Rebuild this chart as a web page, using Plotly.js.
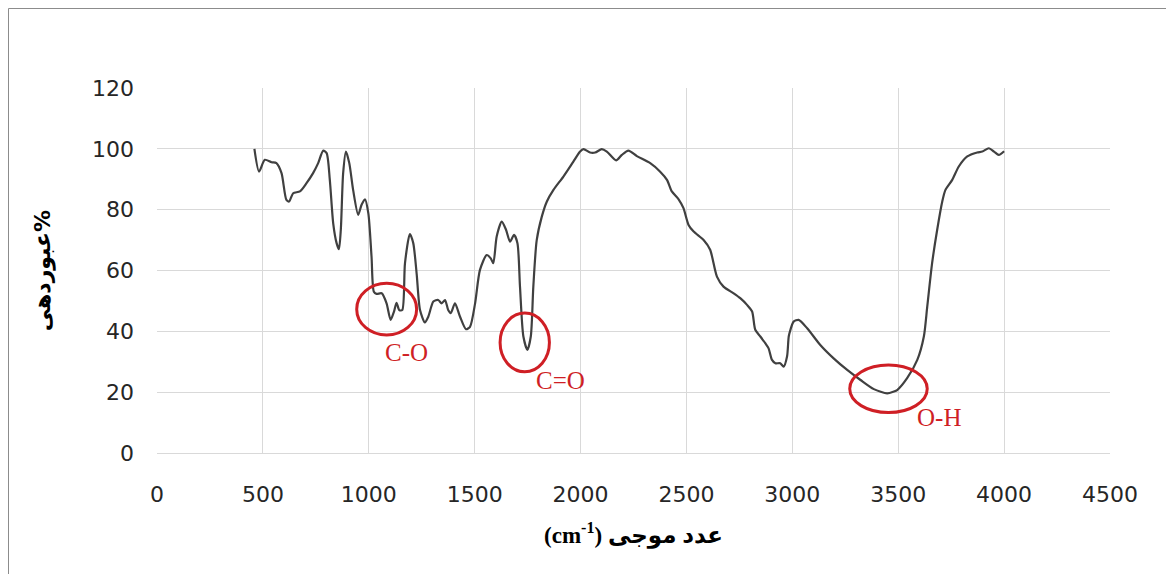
<!DOCTYPE html>
<html>
<head>
<meta charset="utf-8">
<script src="https://cdn.plot.ly/plotly-3.0.1.min.js"></script>
<style>
html,body{margin:0;padding:0;background:#fff;}
#chart{width:1166px;height:574px;}
</style>
</head>
<body>
<div id="chart"></div>
<script>
// Wavenumber (cm-1) and transmittance (%)
const wavenumber = [460,482,509,541,564,588,611,624,643,675,706,737,761,785,801,816,832,848,859,868,879,892,908,926,950,966,982,998,1013,1024,1037,1061,1084,1103,1119,1131,1144,1158,1171,1194,1210,1226,1242,1265,1281,1305,1328,1344,1360,1375,1387,1407,1431,1459,1478,1502,1525,1557,1576,1588,1604,1628,1648,1667,1686,1702,1714,1730,1749,1765,1777,1793,1817,1841,1872,1919,1966,1998,2014,2045,2069,2100,2124,2168,2195,2226,2266,2329,2376,2408,2431,2463,2486,2510,2534,2581,2612,2644,2675,2723,2754,2786,2810,2825,2849,2872,2888,2904,2920,2943,2959,2975,2983,2991,3006,3030,3070,3132,3195,3259,3322,3385,3448,3479,3495,3542,3590,3621,3637,3660,3684,3708,3723,3755,3786,3826,3873,3897,3928,3952,3975,4000];
const transmittance = [100,92.5,96.4,95.6,95.3,92,83.2,82.7,85.4,86,88.7,92,95.3,99.4,98.6,89.8,75.5,69,67,73.4,92,99.1,95.3,86.5,78.3,81.6,83.4,78.8,64.6,53,52.3,52.5,49.2,43.8,46.5,49.4,47,47,62.4,72,69,59,47,42.9,44.8,49.8,50.3,49.2,50.3,47,46,49.2,44.8,40.7,41.5,49.2,60.2,65.1,64,62.4,71.2,76.1,73.4,69.5,71.7,69,54.7,38.3,33.9,38.3,54.7,70,77.7,82.7,86.5,90.9,95.8,99.1,99.9,98.8,98.8,99.9,99.1,96.2,98,99.4,97.6,95.3,92.5,89.8,86,83.4,80.5,75,72.8,70,66.8,58,54.7,52.5,50.9,48.7,46.5,40.5,38.3,36.1,34.4,30.6,29.5,29.5,28.4,31.7,38.3,40.5,43.2,43.75,41,35.5,31.1,27.3,24,21,19.6,20.2,20.7,24.6,30.6,38.3,48.1,62.4,73.4,82.7,86.5,89.8,94.2,97.5,98.8,99.1,100.2,99.1,98,99.2];

// Band annotations: label, ellipse extents (data units), label position
const bandLabels = ["C-O", "C=O", "O-H"];
const bandX0 = [943, 1620, 3271];
const bandX1 = [1226, 1853, 3637];
const bandY0 = [38.8, 26.7, 13.3];
const bandY1 = [55.8, 46, 28.9];
const labelX = [1180, 1903, 3691];
const labelY = [32.9, 24, 11.7];

const xTicks = [0,500,1000,1500,2000,2500,3000,3500,4000,4500];
const yTicks = [0,20,40,60,80,100,120];

const red = '#cf1f25';
const shapes = bandLabels.map((_, i) => ({
  type: 'circle', xref: 'x', yref: 'y',
  x0: bandX0[i], x1: bandX1[i], y0: bandY0[i], y1: bandY1[i],
  line: {color: red, width: 3}
}));
shapes.push({
  type: 'rect', xref: 'paper', yref: 'paper',
  x0: (8.5-157)/953, x1: (1175-157)/953, y0: -0.5, y1: 1 + (88-8.5)/365,
  line: {color: '#8c8c8c', width: 1}, layer: 'below'
});

const annotations = bandLabels.map((t, i) => ({
  x: labelX[i], y: labelY[i], xref: 'x', yref: 'y', text: t, showarrow: false,
  font: {family: 'Liberation Serif, Times New Roman, serif', size: 25, color: red}
}));

const trace = {
  x: wavenumber, y: transmittance, type: 'scatter', mode: 'lines',
  line: {color: '#404040', width: 2.2, shape: 'spline', smoothing: 0.7},
  hoverinfo: 'x+y'
};

const tickFont = {family: 'DejaVu Sans, Open Sans, sans-serif', size: 22, color: '#262626'};

const layout = {
  width: 1166, height: 574,
  margin: {l: 157, r: 56, t: 88, b: 121, pad: 0},
  paper_bgcolor: '#ffffff', plot_bgcolor: '#ffffff',
  showlegend: false,
  xaxis: {
    range: [0, 4500], tickvals: xTicks, ticktext: xTicks.map(String),
    showgrid: true, gridcolor: '#d9d9d9', gridwidth: 1,
    zeroline: false, showline: true, linecolor: '#d9d9d9', linewidth: 1, mirror: false,
    ticks: '', ticklabelstandoff: 22, tickfont: tickFont,
    title: {text: '(cm<sup>-1</sup>) عدد موجی', standoff: 20,
            font: {family: 'Liberation Serif, DejaVu Sans, serif', size: 23, color: '#000000', weight: 'bold'}}
  },
  yaxis: {
    range: [0, 120], tickvals: yTicks, ticktext: yTicks.map(String),
    showgrid: true, gridcolor: '#d9d9d9', gridwidth: 1,
    zeroline: false, showline: false,
    ticks: '', ticklabelstandoff: 22, tickfont: tickFont,
    title: {text: 'عبوردهی%', standoff: 35,
            font: {family: 'DejaVu Sans, Liberation Serif, sans-serif', size: 22, color: '#000000', weight: 'bold'}}
  },
  shapes: shapes,
  annotations: annotations
};

Plotly.newPlot('chart', [trace], layout, {displayModeBar: false, staticPlot: true});
</script>
</body>
</html>
